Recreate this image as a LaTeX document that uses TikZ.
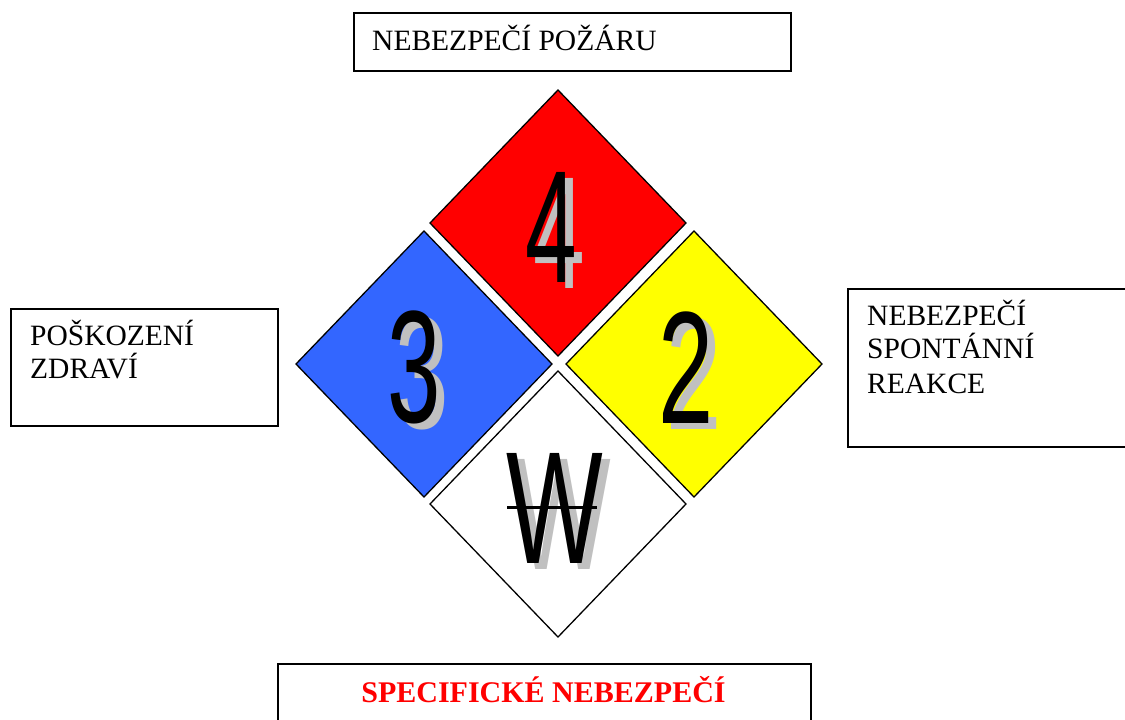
\documentclass[tikz,border=0pt]{standalone}
\usepackage{fontspec}
\setmainfont{Liberation Serif}
\newfontfamily\digitfont{Liberation Sans}
\usepackage{graphicx}
\definecolor{hzred}{HTML}{FF0000}
\definecolor{hzblue}{HTML}{3366FF}
\definecolor{hzyellow}{HTML}{FFFF00}
\definecolor{shadowgray}{HTML}{C0C0C0}
\newcommand\hzdiamond[4]{\draw[dia,fill=#3] (#1-128,#2) -- (#1,#2-133) -- (#1+128,#2) -- (#1,#2+133) -- cycle; \coordinate (#4) at (#1,#2);}
\begin{document}
\begin{tikzpicture}[x=1pt,y=-1pt,
  box/.style={draw=black,line width=1.5pt,inner sep=0pt},
  lab/.style={anchor=base west,inner sep=0pt,font=\fontsize{29.5}{34}\selectfont},
  dia/.style={draw=black,line width=1.3pt,line join=miter},
  num/.style={inner sep=0pt,font=\digitfont\fontsize{160}{160}\selectfont},
  shadow/.style={num,text=shadowgray},
]
\useasboundingbox (0,0) rectangle (1125,720);
\clip (0,0) rectangle (1125,720);
\fill[white] (0,0) rectangle (1125,720);

% label boxes
\node[box,anchor=north west,minimum width=437pt,minimum height=58pt] (topbox) at (353,12) {};
\node[lab] (toplab) at (372,50) {NEBEZPEČÍ POŽÁRU};

\node[box,anchor=north west,minimum width=267pt,minimum height=117pt] (leftbox) at (10,308) {};
\node[lab] (leftlab1) at (30,345) {POŠKOZENÍ};
\node[lab] (leftlab2) at (30,378) {ZDRAVÍ};

\node[box,anchor=north west,minimum width=290pt,minimum height=158pt] (rightbox) at (847,288) {};
\node[lab] (rightlab1) at (867,325) {NEBEZPEČÍ};
\node[lab] (rightlab2) at (867,358) {SPONTÁNNÍ};
\node[lab] (rightlab3) at (867,393) {REAKCE};

\node[box,anchor=north west,minimum width=533pt,minimum height=80pt] (bottombox) at (277,663) {};
\node[anchor=base,inner sep=0pt,text=hzred,font=\bfseries\fontsize{30}{34}\selectfont] (bottomlab) at (543.5,702) {SPECIFICKÉ NEBEZPEČÍ};

% diamonds
\hzdiamond{558}{223}{hzred}{fire}
\hzdiamond{424}{364}{hzblue}{health}
\hzdiamond{694}{364}{hzyellow}{react}
\hzdiamond{558}{504}{white}{special}

% numbers with shadows
\node[shadow] (s4) at (559,233.5) {\scalebox{0.58}[1]{4}};
\node[num] (n4) at (551,227.5) {\scalebox{0.58}[1]{4}};
\node[shadow] (s3) at (422.5,373.5) {\scalebox{0.6}[1]{3}};
\node[num] (n3) at (414.5,367.5) {\scalebox{0.6}[1]{3}};
\node[shadow] (s2) at (694,373.5) {\scalebox{0.62}[1]{2}};
\node[num] (n2) at (686,367.5) {\scalebox{0.62}[1]{2}};
\node[shadow] (sw) at (563,514) {\scalebox{0.64}[1]{W}};
\node[num] (nw) at (555,508) {\scalebox{0.64}[1]{W}};
\coordinate (strikeL) at (507,507);
\coordinate (strikeR) at (597,507);
\draw[line width=3pt] (strikeL) -- (strikeR);
\end{tikzpicture}
\end{document}
